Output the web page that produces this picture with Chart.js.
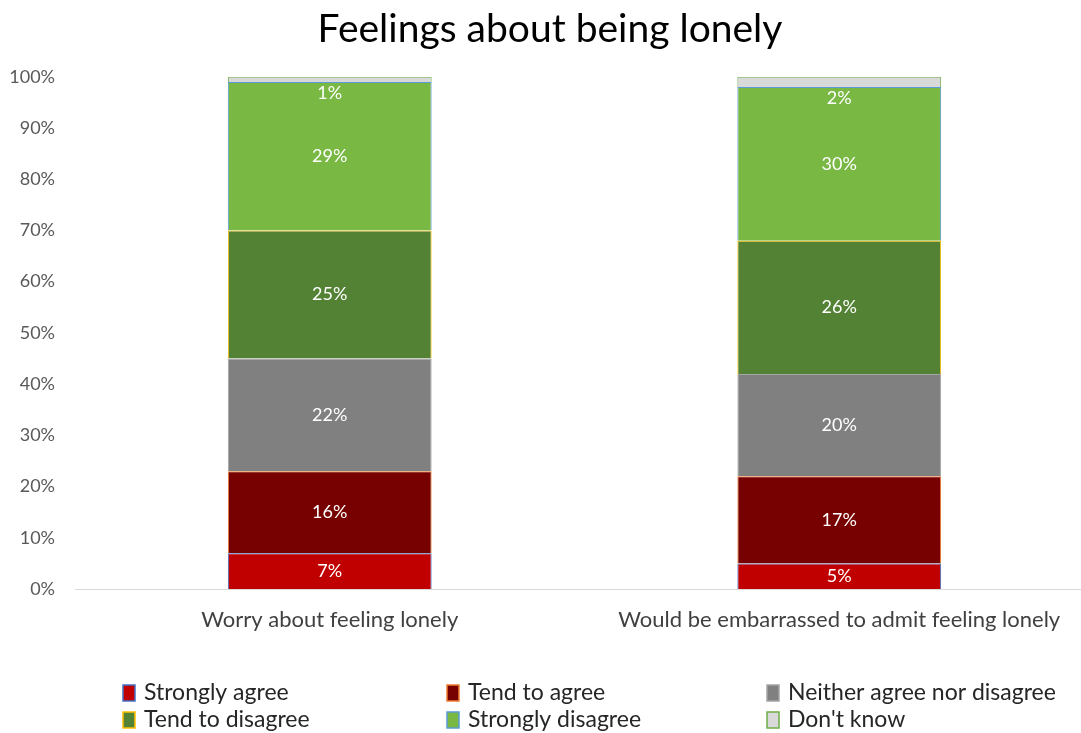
<!DOCTYPE html>
<html>
<head>
<meta charset="utf-8">
<script src="https://cdn.jsdelivr.net/npm/chart.js@4"></script>
<style>
  body { margin: 0; background: #fff; overflow: hidden; }
  #wrap { width: 1094px; height: 733px; }
</style>
</head>
<body>
<div id="wrap"><canvas id="myChart"></canvas></div>
<script>
// survey answers, percent of respondents
var categorias = ['Worry about feeling lonely', 'Would be embarrassed to admit feeling lonely'];
var series = ['Strongly agree', 'Tend to agree', 'Neither agree nor disagree', 'Tend to disagree', 'Strongly disagree', "Don't know"];
var strongly_agree = [7, 5];
var tend_agree = [16, 17];
var neither = [22, 20];
var tend_disagree = [25, 26];
var strongly_disagree = [29, 30];
var dont_know = [1, 2];
var y_ticks = [0, 10, 20, 30, 40, 50, 60, 70, 80, 90, 100];

var rellenos = ['#C00000', '#770000', '#808080', '#548235', '#78B843', '#D9D9D9'];
var bordes = ['#4472C4', '#ED7D31', '#A5A5A5', '#FFC000', '#5B9BD5', '#70AD47'];
var valores = [strongly_agree, tend_agree, neither, tend_disagree, strongly_disagree, dont_know];

var font_base = 'Lato, Calibri, sans-serif';

// white value labels inside the bars
var etiquetas = {
    id: 'etiquetas',
    afterDatasetsDraw: function (chart) {
        var ctx = chart.ctx;
        ctx.save();
        ctx.fillStyle = '#ffffff';
        ctx.font = '18px ' + font_base;
        ctx.textAlign = 'center';
        ctx.textBaseline = 'middle';
        chart.data.datasets.forEach(function (ds, i) {
            var meta = chart.getDatasetMeta(i);
            meta.data.forEach(function (bar, j) {
                var y = (bar.y + bar.base) / 2;
                if (i == chart.data.datasets.length - 1) {
                    y = bar.base + 11;
                }
                ctx.fillText(ds.data[j] + '%', bar.x, y);
            });
        });
        ctx.restore();
    }
};

// legend in a 3 column grid under the chart
var leyenda = {
    id: 'leyenda',
    afterDraw: function (chart) {
        var ctx = chart.ctx;
        var cols = [123, 447, 767];
        var rows = [693, 720];
        ctx.save();
        ctx.font = '23px ' + font_base;
        ctx.textBaseline = 'middle';
        chart.data.datasets.forEach(function (ds, i) {
            var x = cols[i % 3];
            var y = rows[Math.floor(i / 3)];
            ctx.fillStyle = ds.backgroundColor;
            ctx.fillRect(x, y - 8, 12, 16);
            ctx.strokeStyle = ds.borderColor;
            ctx.lineWidth = 1.5;
            ctx.strokeRect(x, y - 8, 12, 16);
            ctx.fillStyle = '#262626';
            ctx.textAlign = 'left';
            ctx.fillText(ds.label, x + 21, y);
        });
        ctx.restore();
    }
};

var datasets = [];
for (var i = 0; i < series.length; i++) {
    datasets.push({
        label: series[i],
        data: valores[i],
        backgroundColor: rellenos[i],
        borderColor: bordes[i],
        borderWidth: 1,
        barPercentage: 0.4,
        categoryPercentage: 1
    });
}

var ctx = document.getElementById('myChart').getContext('2d');
var myChart = new Chart(ctx, {
    type: 'bar',
    data: {
        labels: categorias,
        datasets: datasets
    },
    options: {
        responsive: true,
        maintainAspectRatio: false,
        animation: false,
        layout: {
            padding: { left: 6, right: 0, top: 0, bottom: 94 }
        },
        plugins: {
            legend: { display: false },
            tooltip: { enabled: false },
            title: {
                display: true,
                text: 'Feelings about being lonely',
                color: '#000000',
                font: { family: font_base, size: 39, weight: 'normal' },
                padding: { top: 6, bottom: 24 }
            }
        },
        scales: {
            x: {
                stacked: true,
                grid: { display: false },
                border: { color: '#D9D9D9' },
                afterFit: function (axis) { axis.height = 50; },
                ticks: {
                    color: '#404040',
                    font: { family: font_base, size: 22 },
                    padding: 10,
                    maxRotation: 0
                }
            },
            y: {
                stacked: true,
                min: 0,
                max: 100,
                afterBuildTicks: function (axis) {
                    axis.ticks = y_ticks.map(function (v) { return { value: v }; });
                },
                afterFit: function (axis) { axis.width = 69; },
                grid: { display: false },
                border: { display: false },
                ticks: {
                    color: '#595959',
                    font: { family: font_base, size: 18 },
                    padding: 12,
                    callback: function (v) { return v + '%'; }
                }
            }
        }
    },
    plugins: [etiquetas, leyenda]
});
</script>
</body>
</html>
